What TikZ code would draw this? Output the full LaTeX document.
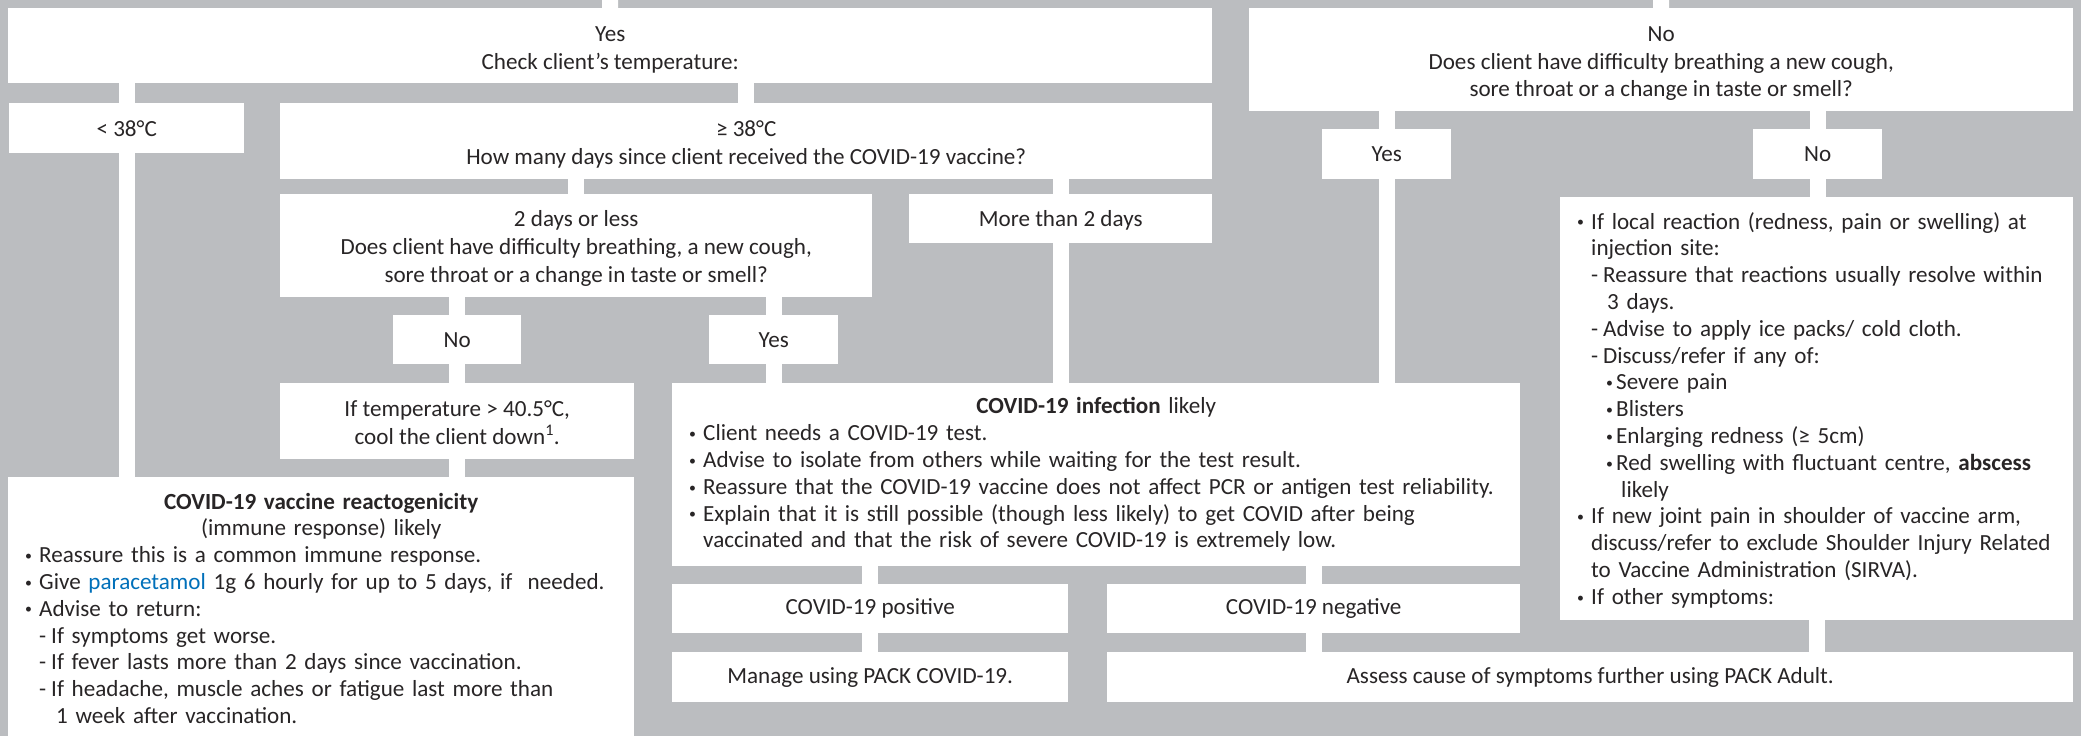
\documentclass[tikz,border=0pt]{standalone}
\usepackage{fontspec}
\setmainfont{Carlito}
\definecolor{bggray}{RGB}{187,189,192}
\definecolor{txt}{RGB}{40,37,38}
\definecolor{drugblue}{RGB}{0,112,186}
\newcommand\mainsz{\fontsize{23.1}{26.8}\selectfont}
\newcommand\cboxsz{\fontsize{23.1}{27.8}\selectfont}
\newcommand\bulletmark{\raisebox{0.1em}{\scalebox{0.6}{•}}}
\newcommand\Lbul[1]{\mbox{\llap{\makebox[14pt][l]{\bulletmark}}#1}}
\newcommand\Lplain[1]{\mbox{#1}}
\newcommand\Ldash[1]{\mbox{\makebox[12pt][l]{-}#1}}
\newcommand\Lsub[1]{\mbox{\hspace*{15pt}\makebox[10pt][l]{\bulletmark}#1}}
\newcommand\Lind[2]{\mbox{\hspace*{#1}#2}}
\newcommand\Dn[2]{\raisebox{0pt}[\dimexpr\height+#1\relax]{#2}}
\tikzset{
  box/.style={fill=white, draw=none, text=txt, font=\mainsz, anchor=north west},
  cbox/.style={box, align=center, inner sep=0pt, font=\cboxsz},
  lbox/.style={box, align=left, inner xsep=31pt, inner ysep=0pt},
  conn/.style={draw=white, line width=16pt},
}
\begin{document}
\begin{tikzpicture}[x=1pt,y=-1pt]
\fill[bggray] (0,0) rectangle (2081,736);
\useasboundingbox (0,0) rectangle (2081,736);

% top row
\node[cbox, minimum width=1204pt, minimum height=75pt] (yesTemp) at (8,8)
  {\Dn{8pt}{Yes}\\Check client’s temperature:};
\node[cbox, minimum width=824pt, minimum height=103pt] (noBreath) at (1249,8)
  {\Dn{8pt}{No}\\Does client have difficulty breathing a new cough,\\sore throat or a change in taste or smell?};

% left branch
\node[cbox, minimum width=235pt, minimum height=50pt] (lt38) at (9,103) {< 38°C};
\node[cbox, minimum width=932pt, minimum height=76pt] (ge38) at (280,103)
  {\Dn{6pt}{≥ 38°C}\\How many days since client received the COVID-19 vaccine?};
\node[cbox, minimum width=592pt, minimum height=103pt] (twoDays) at (280,194)
  {\Dn{5pt}{2 days or less}\\Does client have difficulty breathing, a new cough,\\sore throat or a change in taste or smell?};
\node[cbox, minimum width=303pt, minimum height=49pt] (more2) at (909,194) {\Dn{3pt}{More than 2 days}};
\node[cbox, minimum width=128pt, minimum height=49pt] (noA) at (393,315) {No};
\node[cbox, minimum width=129pt, minimum height=49pt] (yesA) at (709,315) {Yes};
\node[cbox, minimum width=354pt, minimum height=76pt] (ifTemp) at (280,383)
  {\Dn{3pt}{If temperature > 40.5°C,}\\cool the client down\textsuperscript{1}.};

\node[lbox, text width=564pt, minimum height=259pt] (react) at (8,477) {%
  \Dn{3pt}{\makebox[\linewidth][c]{\bfseries COVID-19 vaccine reactogenicity}}\\
  \makebox[\linewidth][c]{(immune response) likely}\\
  \Lbul{Reassure this is a common immune response.}\\
  \Lbul{Give \textcolor{drugblue}{paracetamol} 1g 6 hourly for up to 5 days, if~ needed.}\\
  \Lbul{Advise to return:}\\
  \Ldash{If symptoms get worse.}\\
  \Ldash{If fever lasts more than 2 days since vaccination.}\\
  \Ldash{If headache, muscle aches or fatigue last more than}\\
  \Lind{17pt}{1 week after vaccination.}};

\node[lbox, text width=786pt, minimum height=183pt] (infection) at (672,383) {%
  \makebox[\linewidth][c]{\textbf{COVID-19 infection} likely}\\
  \Lbul{Client needs a COVID-19 test.}\\
  \Lbul{Advise to isolate from others while waiting for the test result.}\\
  \Lbul{Reassure that the COVID-19 vaccine does not affect PCR or antigen test reliability.}\\
  \Lbul{Explain that it is still possible (though less likely) to get COVID after being}\\
  \Lplain{vaccinated and that the risk of severe COVID-19 is extremely low.}};

\node[cbox, minimum width=396pt, minimum height=49pt] (pos) at (672,584) {COVID-19 positive};
\node[cbox, minimum width=413pt, minimum height=49pt] (neg) at (1107,584) {COVID-19 negative};
\node[cbox, minimum width=396pt, minimum height=50pt] (manage) at (672,652) {Manage using PACK COVID-19.};
\node[cbox, minimum width=966pt, minimum height=50pt] (assess) at (1107,652)
  {Assess cause of symptoms further using PACK Adult.};

% right branch
\node[cbox, minimum width=129pt, minimum height=50pt] (yesB) at (1322,129) {Yes};
\node[cbox, minimum width=129pt, minimum height=50pt] (noB) at (1753,129) {No};
\node[lbox, text width=451pt, minimum height=423pt] (local) at (1560,197) {%
  \Dn{3pt}{\Lbul{If local reaction (redness, pain or swelling) at}}\\
  \Lplain{injection site:}\\
  \Ldash{Reassure that reactions usually resolve within}\\
  \Lind{16pt}{3 days.}\\
  \Ldash{Advise to apply ice packs/ cold cloth.}\\
  \Ldash{Discuss/refer if any of:}\\
  \Lsub{Severe pain}\\
  \Lsub{Blisters}\\
  \Lsub{Enlarging redness (≥ 5cm)}\\
  \Lsub{Red swelling with fluctuant centre, \textbf{abscess}}\\
  \Lind{30pt}{likely}\\
  \Lbul{If new joint pain in shoulder of vaccine arm,}\\
  \Lplain{discuss/refer to exclude Shoulder Injury Related}\\
  \Lplain{to Vaccine Administration (SIRVA).}\\
  \Lbul{If other symptoms:}};

% connectors
\coordinate (topA) at (610,0);
\coordinate (topB) at (1661,0);
\draw[conn] (topA) -- (yesTemp.north);
\draw[conn] (topB) -- (noBreath.north);
\draw[conn] (lt38.north) -- (lt38.north |- yesTemp.south);
\draw[conn] (ge38.north) -- (ge38.north |- yesTemp.south);
\draw[conn] (lt38.south) -- (lt38.south |- react.north);
\draw[conn] (twoDays.north) -- (twoDays.north |- ge38.south);
\draw[conn] (more2.north) -- (more2.north |- ge38.south);
\draw[conn] (more2.south) -- (more2.south |- infection.north);
\draw[conn] (noA.north) -- (noA.north |- twoDays.south);
\draw[conn] (noA.south) -- (noA.south |- ifTemp.north);
\draw[conn] (ifTemp.south) -- (ifTemp.south |- react.north);
\draw[conn] (yesA.north) -- (yesA.north |- twoDays.south);
\draw[conn] (yesA.south) -- (yesA.south |- infection.north);
\draw[conn] (yesB.north) -- (yesB.north |- noBreath.south);
\draw[conn] (yesB.south) -- (yesB.south |- infection.north);
\draw[conn] (noB.north) -- (noB.north |- noBreath.south);
\draw[conn] (noB.south) -- (noB.south |- local.north);
\draw[conn] (local.south) -- (local.south |- assess.north);
\draw[conn] (pos.north) -- (pos.north |- infection.south);
\draw[conn] (neg.north) -- (neg.north |- infection.south);
\draw[conn] (pos.south) -- (pos.south |- manage.north);
\draw[conn] (neg.south) -- (neg.south |- assess.north);
\end{tikzpicture}
\end{document}
